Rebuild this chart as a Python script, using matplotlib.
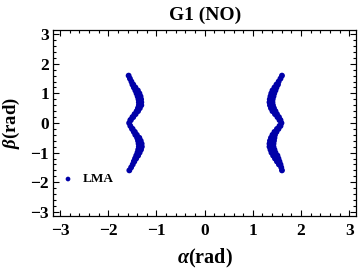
import matplotlib
matplotlib.use("Agg")
import matplotlib.pyplot as plt
from matplotlib.ticker import MultipleLocator
import numpy as np

plt.rcParams['font.family'] = ['Liberation Serif', 'DejaVu Serif']
plt.rcParams['font.weight'] = 'bold'
plt.rcParams['mathtext.fontset'] = 'custom'
plt.rcParams['mathtext.it'] = 'Liberation Serif:italic:bold'
plt.rcParams['mathtext.rm'] = 'Liberation Serif:bold'

title = "G1 (NO)"
xlabel = r"$\alpha$(rad)"
ylabel = r"$\beta$(rad)"
legend_label = "LMA"
ticks = [-3, -2, -1, 0, 1, 2, 3]

# LMA scatter points (alpha, beta) in rad
left_alpha = [-1.578, -1.551, -1.520, -1.499, -1.482, -1.470, -1.437, -1.439, -1.387,
              -1.414, -1.354, -1.391, -1.331, -1.373, -1.319, -1.366, -1.315, -1.366, -1.315,
              -1.385, -1.346, -1.412, -1.383, -1.455, -1.433, -1.499, -1.482, -1.542, -1.532,
              -1.567, -1.542, -1.507, -1.495, -1.470, -1.449, -1.439, -1.408, -1.402, -1.356,
              -1.383, -1.327, -1.371, -1.308, -1.366, -1.304, -1.379, -1.321, -1.395, -1.350,
              -1.420, -1.381, -1.445, -1.422, -1.470, -1.460, -1.493, -1.526, -1.563]
left_beta = [1.6, 1.5, 1.4, 1.3, 1.3, 1.2, 1.2, 1.1, 1.1,
             1.0, 1.0, 0.9, 0.9, 0.8, 0.8, 0.7, 0.7, 0.6, 0.6,
             0.5, 0.5, 0.4, 0.4, 0.3, 0.3, 0.2, 0.2, 0.1, 0.1,
             0.0, -0.1, -0.2, -0.2, -0.3, -0.3, -0.4, -0.4, -0.5, -0.5,
             -0.6, -0.6, -0.7, -0.7, -0.8, -0.8, -0.9, -0.9, -1.0, -1.0,
             -1.1, -1.1, -1.2, -1.2, -1.3, -1.3, -1.4, -1.5, -1.6]

right_alpha = [1.605, 1.574, 1.536, 1.491, 1.522, 1.449, 1.491, 1.408, 1.470,
               1.383, 1.445, 1.366, 1.429, 1.352, 1.412, 1.346, 1.408, 1.356, 1.418,
               1.377, 1.439, 1.408, 1.470, 1.460, 1.501, 1.511, 1.542, 1.553, 1.574,
               1.594, 1.553, 1.574, 1.501, 1.532, 1.449, 1.491, 1.408, 1.460, 1.377,
               1.449, 1.356, 1.439, 1.346, 1.429, 1.346, 1.429, 1.366, 1.449, 1.387,
               1.470, 1.422, 1.511, 1.460, 1.532, 1.501, 1.553, 1.542, 1.574, 1.590, 1.605]
right_beta = [1.6, 1.5, 1.4, 1.3, 1.3, 1.2, 1.2, 1.1, 1.1,
              1.0, 1.0, 0.9, 0.9, 0.8, 0.8, 0.7, 0.7, 0.6, 0.6,
              0.5, 0.5, 0.4, 0.4, 0.3, 0.3, 0.2, 0.2, 0.1, 0.1,
              0.0, -0.1, -0.1, -0.2, -0.2, -0.3, -0.3, -0.4, -0.4, -0.5,
              -0.5, -0.6, -0.6, -0.7, -0.7, -0.8, -0.8, -0.9, -0.9, -1.0,
              -1.0, -1.1, -1.1, -1.2, -1.2, -1.3, -1.3, -1.4, -1.4, -1.5, -1.6]

color = '#0000A8'

fig = plt.figure(figsize=(3.6, 2.71), dpi=100)
ax = fig.add_axes([53.3 / 360, 1 - 216 / 271, (356 - 53.3) / 360, (216 - 30) / 271])

alpha_all = left_alpha + right_alpha
beta_all = left_beta + right_beta
ax.scatter(alpha_all, beta_all, s=18, color=color, edgecolors='none', label=legend_label)

ax.set_xlim(-np.pi, np.pi)
ax.set_ylim(-np.pi, np.pi)
ax.set_xticks(ticks)
ax.set_yticks(ticks)
ax.set_xticklabels([f"\u2212{abs(t)}" if t < 0 else str(t) for t in ticks])
ax.set_yticklabels([f"\u2212{abs(t)}" if t < 0 else str(t) for t in ticks])
ax.xaxis.set_minor_locator(MultipleLocator(0.2))
ax.yaxis.set_minor_locator(MultipleLocator(0.2))
ax.tick_params(which='both', direction='in', top=True, right=True, width=0.8, colors='black')
ax.tick_params(which='major', length=4, labelsize=12.5)
ax.tick_params(axis='x', which='major', pad=5)
ax.tick_params(axis='y', which='major', pad=3)
ax.tick_params(which='minor', length=2)
for lbl in ax.get_xticklabels() + ax.get_yticklabels():
    lbl.set_fontweight('bold')
for sp in ax.spines.values():
    sp.set_linewidth(0.9)

ax.set_title(title, fontsize=14, fontweight='bold', pad=7)
ax.set_xlabel(xlabel, fontsize=14.5, fontweight='bold')
ax.set_ylabel(ylabel, fontsize=13.5, fontweight='bold')
ax.xaxis.set_label_coords(0.5, -0.165)
ax.yaxis.set_label_coords(-0.105, 0.5)

leg = ax.legend(loc='center left', bbox_to_anchor=(0.005, 0.197), frameon=False,
                borderpad=0, handlelength=1.0, handletextpad=0.6, markerscale=0.8,
                prop={'family': 'Liberation Serif', 'weight': 'bold', 'size': 9.5})

fig.savefig('out.png', dpi=100)
